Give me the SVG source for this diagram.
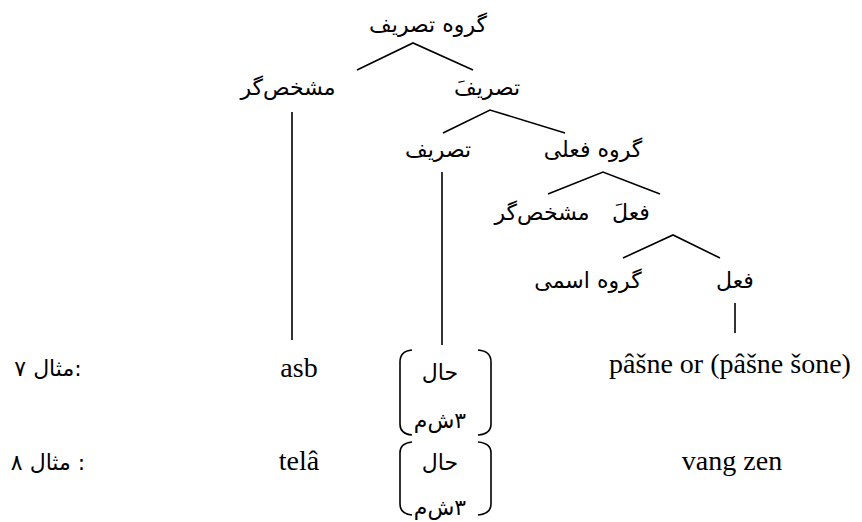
<svg xmlns="http://www.w3.org/2000/svg" width="862" height="522" viewBox="0 0 862 522">
<style>
.ar{font-family:"DejaVu Sans","Noto Sans",sans-serif;font-size:22px;fill:#000;text-anchor:middle}
.la{font-family:"Liberation Serif","DejaVu Serif","Times New Roman",serif;font-size:28px;fill:#000;text-anchor:middle}
.ln{stroke:#000;stroke-width:1.6;fill:none}
.rtl{direction:rtl;unicode-bidi:embed}
</style>
<rect width="862" height="522" fill="#fff"/>
<g id="connectors">
<polyline class="ln" points="357,70 413,43 473,70"/>
<polyline class="ln" points="443,133 490,110 565,133"/>
<polyline class="ln" points="548,194 603,172 660,194"/>
<polyline class="ln" points="623,258 673,235 720,258"/>
<line class="ln" x1="292" y1="112" x2="292" y2="340"/>
<line class="ln" x1="442" y1="172" x2="442" y2="345"/>
<line class="ln" x1="735" y1="303" x2="735" y2="333"/>
</g>
<g id="n-root"><text class="ar" x="428" y="32">گروه تصریف</text></g>
<g id="n-spec1"><text class="ar" x="288" y="95">مشخص‌گر</text></g>
<g id="n-infl-bar"><text class="ar" x="487" y="95">تصریفَ</text></g>
<g id="n-infl"><text class="ar" x="438" y="157">تصریف</text></g>
<g id="n-vp"><text class="ar" x="593" y="157">گروه فعلی</text></g>
<g id="n-spec2"><text class="ar" x="542" y="220">مشخص‌گر</text></g>
<g id="n-v-bar"><text class="ar" x="631" y="220">فعلَ</text></g>
<g id="n-np"><text class="ar" x="588" y="288">گروه اسمی</text></g>
<g id="n-v"><text class="ar" x="735" y="288">فعل</text></g>
<g id="ex7">
<text class="ar" x="48" y="376" style="direction:ltr">مثال ۷:</text>
<text class="la" x="299" y="377">asb</text>
<path class="ln" d="M412,350 Q400,351 400,362 L400,424 Q400,434 412,435"/>
<path class="ln" d="M478,350 Q491,351 491,362 L491,424 Q491,434 478,435"/>
<text class="ar" x="440" y="380">حال</text>
<text class="ar rtl" x="440" y="428" direction="rtl">۳ش‌م</text>
<text class="la" x="730" y="373">pâšne or (pâšne šone)</text>
</g>
<g id="ex8">
<text class="ar" x="48" y="470" style="direction:ltr">مثال ۸ :</text>
<text class="la" x="299" y="470">telâ</text>
<path class="ln" d="M412,442 Q400,443 400,453 L400,504 Q400,514 412,515"/>
<path class="ln" d="M478,442 Q491,443 491,453 L491,504 Q491,514 478,515"/>
<text class="ar" x="440" y="470">حال</text>
<text class="ar rtl" x="440" y="515" direction="rtl">۳ش‌م</text>
<text class="la" x="732" y="470">vang zen</text>
</g>
</svg>
